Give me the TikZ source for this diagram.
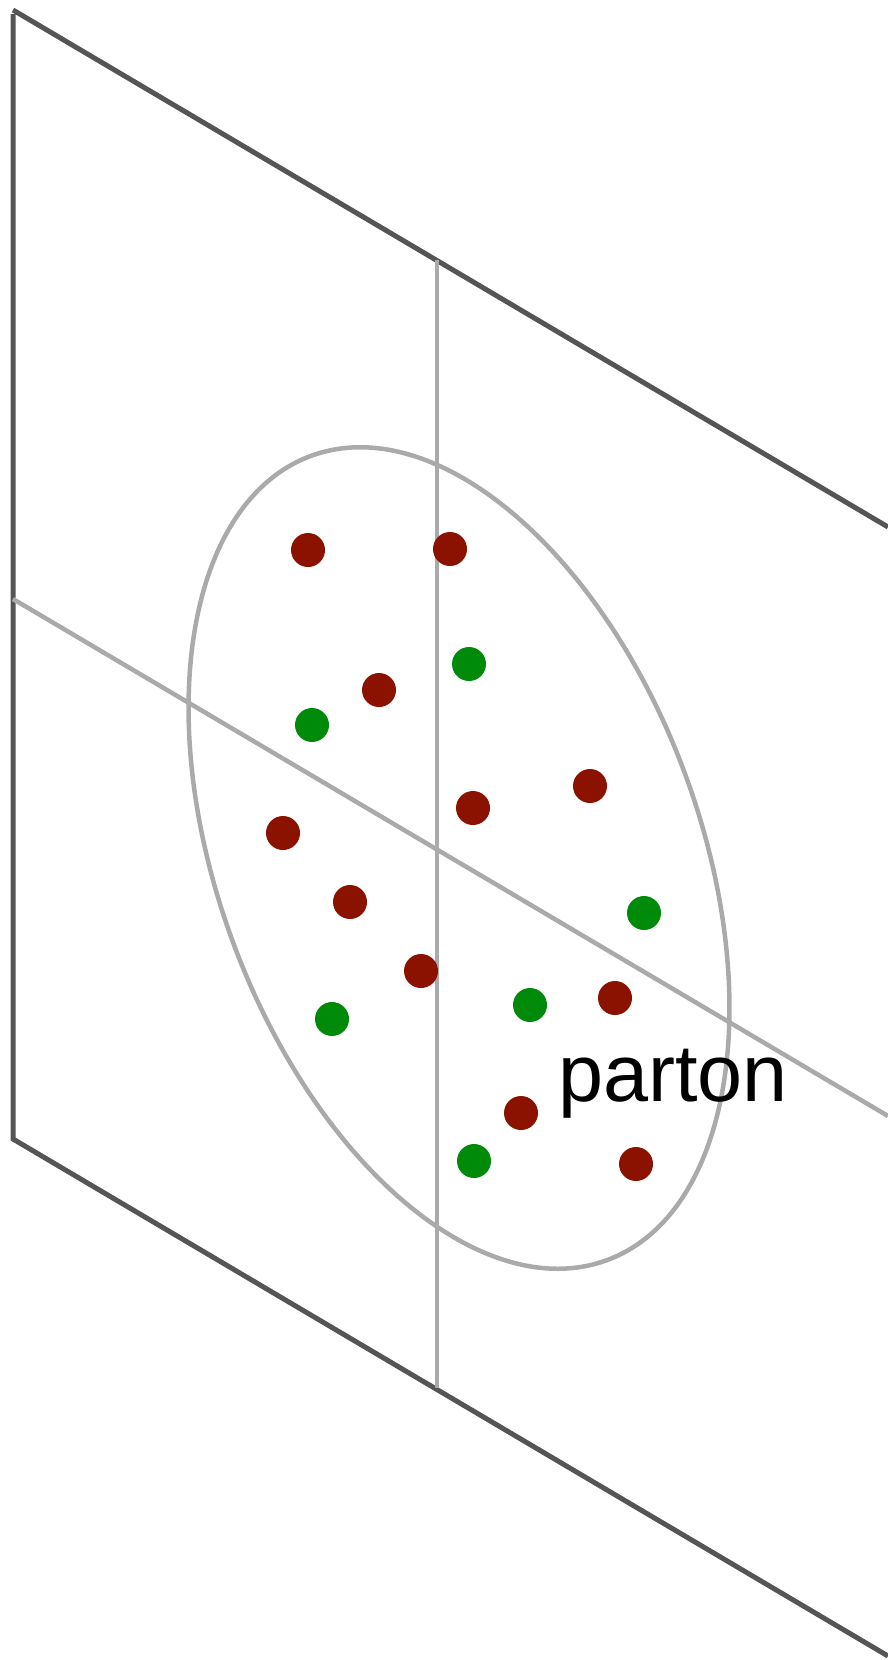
\documentclass[tikz,border=0pt]{standalone}
\usepackage{fontspec}
\setmainfont{Liberation Sans}
\definecolor{edgedark}{HTML}{555555}
\definecolor{axisgray}{HTML}{AAAAAA}
\definecolor{dotred}{HTML}{8C1200}
\definecolor{dotgreen}{HTML}{008A0A}
\tikzset{
  planeedge/.style={draw=edgedark, line width=5pt},
  axisline/.style={draw=axisgray, line width=4.5pt},
  reddot/.style={fill=dotred},
  greendot/.style={fill=dotgreen},
  label/.style={inner sep=0pt, anchor=base west, font=\fontsize{81}{81}\selectfont}
}
\begin{document}
\begin{tikzpicture}[x=1pt,y=-1pt]
\useasboundingbox (0,0) rectangle (888,1660);
\clip (0,0) rectangle (888,1660);
% plane corners
\coordinate (tl) at (13,10);
\coordinate (tr) at (888,527);
\coordinate (lt) at (13,14);
\coordinate (bl) at (13,1139);
\coordinate (br) at (888,1656);
% axes
\coordinate (vt) at (437,260);
\coordinate (vb) at (437,1388);
\coordinate (hl) at (13,599);
\coordinate (hr) at (888,1116);
\coordinate (ec) at (459,858);
\draw[planeedge] (tl) -- (tr);
\draw[planeedge] (lt) -- (bl) -- (br);
\draw[axisline] (vt) -- (vb);
\draw[axisline] (hl) -- (hr);
\draw[axisline] (ec) ellipse [x radius=428.5pt, y radius=241.2pt, rotate=-69.8];
% red partons
\foreach \p in {(308,550),(450,549),(379,690),(473,808),(590,786),(283,833),(350,902),(421,971),(615,998),(521,1113),(636,1164)}
  \fill[reddot] \p circle [radius=17pt];
% green partons
\foreach \p in {(469,664),(312,725),(644,913),(530,1005),(332,1019),(474,1161)}
  \fill[greendot] \p circle [radius=17pt];
\node[label] (lbl) at (558,1101) {parton};
\end{tikzpicture}
\end{document}
